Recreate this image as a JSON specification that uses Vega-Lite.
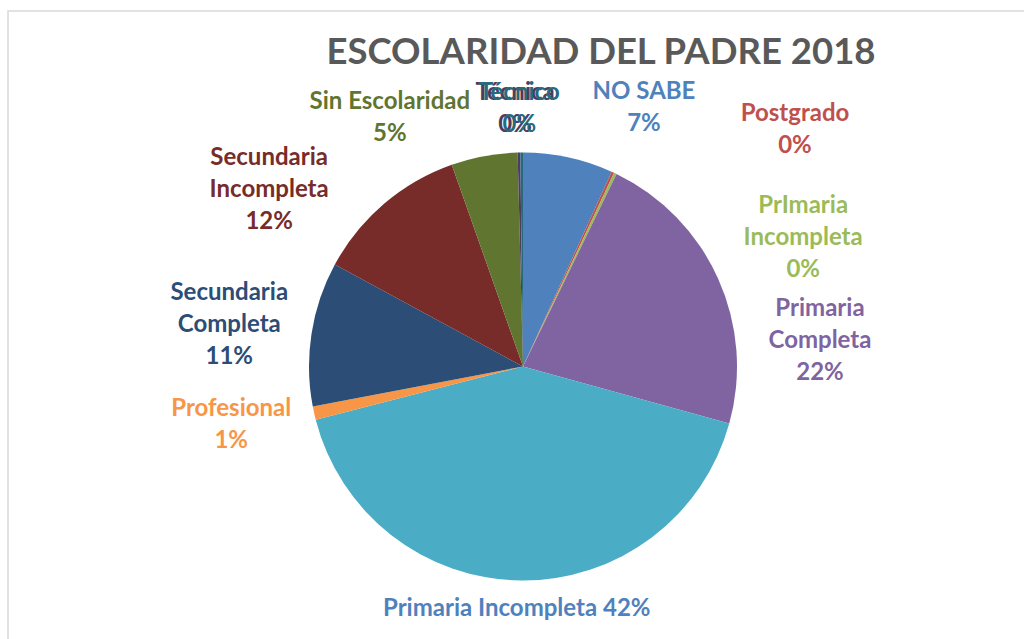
{
  "$schema": "https://vega.github.io/schema/vega-lite/v6.json",
  "autosize": {"type": "none"},
  "width": 1030,
  "height": 711,
  "padding": {"left": 8, "top": 11, "right": -14, "bottom": -83},
  "background": "white",
  "view": {"stroke": "#D9D9D9", "strokeWidth": 1.5},
  "config": {"view": {"stroke": "#D9D9D9", "strokeWidth": 1.5}},
  "title": {
    "text": "ESCOLARIDAD DEL PADRE 2018",
    "color": "#595959",
    "font": "Lato",
    "fontSize": 36.5,
    "fontWeight": "bold",
    "anchor": "middle",
    "baseline": "top",
    "dx": 78,
    "dy": 64
  },
  "data": {
    "values": [
      {"nivel": "NO SABE", "pct": 6.8, "etiqueta": "NO SABE\n7%", "orden": 1},
      {"nivel": "Postgrado", "pct": 0.2, "etiqueta": "Postgrado\n0%", "orden": 2},
      {"nivel": "PrImaria Incompleta", "pct": 0.2, "etiqueta": "PrImaria\nIncompleta\n0%", "orden": 3},
      {"nivel": "Primaria Completa", "pct": 22.1, "etiqueta": "Primaria\nCompleta\n22%", "orden": 4},
      {"nivel": "Primaria Incompleta", "pct": 41.7, "etiqueta": "Primaria Incompleta 42%", "orden": 5},
      {"nivel": "Profesional", "pct": 1.0, "etiqueta": "Profesional\n1%", "orden": 6},
      {"nivel": "Secundaria Completa", "pct": 10.9, "etiqueta": "Secundaria\nCompleta\n11%", "orden": 7},
      {"nivel": "Secundaria Incompleta", "pct": 11.7, "etiqueta": "Secundaria\nIncompleta\n12%", "orden": 8},
      {"nivel": "Sin Escolaridad", "pct": 5.0, "etiqueta": "Sin Escolaridad\n5%", "orden": 9},
      {"nivel": "Técnica", "pct": 0.2, "etiqueta": "Técnica\n0%", "orden": 10},
      {"nivel": "Técnico", "pct": 0.2, "etiqueta": "Técnico\n0%", "orden": 11}
    ]
  },
  "encoding": {
    "theta": {"field": "pct", "type": "quantitative", "stack": true},
    "order": {"field": "orden", "type": "quantitative"}
  },
  "layer": [
    {
      "mark": {"type": "arc", "radius": 214},
      "encoding": {
        "color": {
          "field": "nivel",
          "type": "nominal",
          "legend": null,
          "scale": {
            "domain": ["NO SABE", "Postgrado", "PrImaria Incompleta", "Primaria Completa", "Primaria Incompleta", "Profesional", "Secundaria Completa", "Secundaria Incompleta", "Sin Escolaridad", "Técnica", "Técnico"],
            "range": ["#4F81BD", "#C0504D", "#9BBB59", "#8064A2", "#4BACC6", "#F79646", "#2C4D75", "#772C2A", "#5F7530", "#4D3B62", "#276A7C"]
          }
        }
      }
    },
    {
      "mark": {"type": "text", "radius": 260, "dx": -3, "dy": -14, "font": "Lato", "fontSize": 24, "fontWeight": "bold", "lineBreak": "\n", "lineHeight": 32, "color": "#4D3B62"},
      "encoding": {"text": {"condition": {"test": "datum.nivel === 'Técnica'", "field": "etiqueta"}, "value": ""}}
    },
    {
      "mark": {"type": "text", "radius": 260, "dx": -2, "dy": -14, "font": "Lato", "fontSize": 24, "fontWeight": "bold", "lineBreak": "\n", "lineHeight": 32, "color": "#276A7C"},
      "encoding": {"text": {"condition": {"test": "datum.nivel === 'Técnico'", "field": "etiqueta"}, "value": ""}}
    },
    {
      "mark": {"type": "text", "radius": 266.5, "dx": 64.5, "dy": -14, "font": "Lato", "fontSize": 24, "fontWeight": "bold", "lineBreak": "\n", "lineHeight": 32, "color": "#4F81BD"},
      "encoding": {"text": {"condition": {"test": "datum.nivel === 'NO SABE'", "field": "etiqueta"}, "value": ""}}
    },
    {
      "mark": {"type": "text", "radius": 262.8, "dx": 161.6, "dy": -14, "font": "Lato", "fontSize": 24, "fontWeight": "bold", "lineBreak": "\n", "lineHeight": 32, "color": "#C0504D"},
      "encoding": {"text": {"condition": {"test": "datum.nivel === 'Postgrado'", "field": "etiqueta"}, "value": ""}}
    },
    {
      "mark": {"type": "text", "radius": 260, "dx": 168, "dy": 74, "font": "Lato", "fontSize": 24, "fontWeight": "bold", "lineBreak": "\n", "lineHeight": 32, "color": "#9BBB59"},
      "encoding": {"text": {"condition": {"test": "datum.nivel === 'PrImaria Incompleta'", "field": "etiqueta"}, "value": ""}}
    },
    {
      "mark": {"type": "text", "radius": 260, "dx": 60, "dy": 49.5, "font": "Lato", "fontSize": 24, "fontWeight": "bold", "lineBreak": "\n", "lineHeight": 32, "color": "#8064A2"},
      "encoding": {"text": {"condition": {"test": "datum.nivel === 'Primaria Completa'", "field": "etiqueta"}, "value": ""}}
    },
    {
      "mark": {"type": "text", "radius": 241.5, "dx": -4, "dy": 1, "font": "Lato", "fontSize": 24, "fontWeight": "bold", "lineBreak": "\n", "lineHeight": 32, "color": "#4F81BD"},
      "encoding": {"text": {"condition": {"test": "datum.nivel === 'Primaria Incompleta'", "field": "etiqueta"}, "value": ""}}
    },
    {
      "mark": {"type": "text", "radius": 259, "dx": -39, "dy": -14, "font": "Lato", "fontSize": 24, "fontWeight": "bold", "lineBreak": "\n", "lineHeight": 32, "color": "#F79646"},
      "encoding": {"text": {"condition": {"test": "datum.nivel === 'Profesional'", "field": "etiqueta"}, "value": ""}}
    },
    {
      "mark": {"type": "text", "radius": 277, "dx": -20, "dy": -31, "font": "Lato", "fontSize": 24, "fontWeight": "bold", "lineBreak": "\n", "lineHeight": 32, "color": "#2C4D75"},
      "encoding": {"text": {"condition": {"test": "datum.nivel === 'Secundaria Completa'", "field": "etiqueta"}, "value": ""}}
    },
    {
      "mark": {"type": "text", "radius": 260, "dx": -85, "dy": -11, "font": "Lato", "fontSize": 24, "fontWeight": "bold", "lineBreak": "\n", "lineHeight": 32, "color": "#772C2A"},
      "encoding": {"text": {"condition": {"test": "datum.nivel === 'Secundaria Incompleta'", "field": "etiqueta"}, "value": ""}}
    },
    {
      "mark": {"type": "text", "radius": 254.7, "dx": -87, "dy": -14, "font": "Lato", "fontSize": 24, "fontWeight": "bold", "lineBreak": "\n", "lineHeight": 32, "color": "#5F7530"},
      "encoding": {"text": {"condition": {"test": "datum.nivel === 'Sin Escolaridad'", "field": "etiqueta"}, "value": ""}}
    }
  ]
}
